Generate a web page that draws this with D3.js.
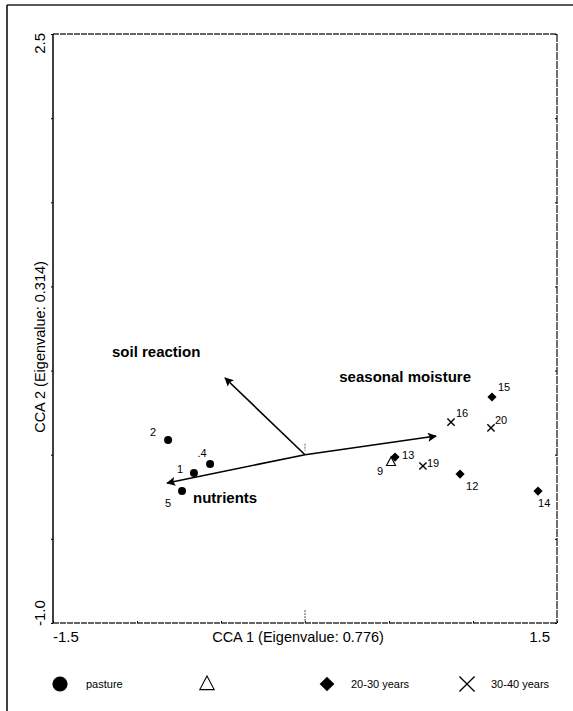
<!DOCTYPE html>
<html>
<head>
<meta charset="utf-8">
<script src="https://cdn.jsdelivr.net/npm/d3@7"></script>
<style>
  body { margin: 0; background: #fff; }
  svg { display: block; font-family: "Liberation Sans", Arial, sans-serif; }
  text { fill: #000; }
</style>
</head>
<body>
<svg id="chart" width="573" height="711"></svg>
<script>
// site scores (CCA 1, CCA 2)
var siteIds    = ["1", "2", "4", "5", "9", "13", "19", "12", "14", "15", "16", "20"];
var siteGroup  = ["pasture", "pasture", "pasture", "pasture", "open", "20-30", "30-40", "20-30", "20-30", "20-30", "30-40", "30-40"];
var siteX      = [-0.661, -0.815, -0.565, -0.732, 0.512, 0.536, 0.702, 0.923, 1.387, 1.113, 0.869, 1.107];
var siteY      = [-0.109, 0.087, -0.055, -0.216, -0.043, -0.014, -0.067, -0.115, -0.216, 0.343, 0.194, 0.159];

// environmental arrows
var envNames = ["soil reaction", "seasonal moisture", "nutrients"];
var envX     = [-0.476, 0.780, -0.821];
var envY     = [0.456, 0.111, -0.168];

var xTickLabels = ["-1.5", "1.5"];
var yTickLabels = ["2.5", "-1.0"];
var legendGroups = ["pasture", "open", "20-30", "30-40"];
var legendTexts  = ["pasture", "", "20-30 years", "30-40 years"];

var svg = d3.select("#chart");

var x = d3.scaleLinear().domain([-1.5, 1.5]).range([53, 557]);
var y = d3.scaleLinear().domain([-1.0, 2.5]).range([623, 34]);

// outer frame (top and left only)
svg.append("line")
  .attr("x1", 7).attr("y1", 5).attr("x2", 573).attr("y2", 5)
  .attr("stroke", "#222").attr("stroke-width", 1.5);
svg.append("line")
  .attr("x1", 7).attr("y1", 5).attr("x2", 7).attr("y2", 711)
  .attr("stroke", "#111").attr("stroke-width", 1.6);

// plot frame
svg.append("line")
  .attr("x1", x(-1.5)).attr("y1", y(2.5)).attr("x2", x(1.5)).attr("y2", y(2.5))
  .attr("stroke", "#333").attr("stroke-width", 1.3).attr("stroke-dasharray", "6,1");
svg.append("line")
  .attr("x1", x(-1.5)).attr("y1", y(-1)).attr("x2", x(1.5)).attr("y2", y(-1))
  .attr("stroke", "#333").attr("stroke-width", 1.3).attr("stroke-dasharray", "6,1");
svg.append("line")
  .attr("x1", x(1.5)).attr("y1", y(2.5)).attr("x2", x(1.5)).attr("y2", y(-1))
  .attr("stroke", "#222").attr("stroke-width", 1.3).attr("stroke-dasharray", "8,1");
svg.append("line")
  .attr("x1", x(-1.5)).attr("y1", y(2.5)).attr("x2", x(-1.5)).attr("y2", y(-1))
  .attr("stroke", "#000").attr("stroke-width", 1.5);

// tick marks
var ticks = d3.range(-1.5, 1.51, 0.5);
svg.append("g")
  .attr("transform", "translate(0," + y(-1) + ")")
  .call(d3.axisTop(x).tickValues(ticks).tickSize(2).tickFormat(""))
  .call(function(g) { g.select(".domain").remove(); });
svg.append("g")
  .attr("transform", "translate(" + x(-1.5) + ",0)")
  .call(d3.axisLeft(y).tickValues(d3.range(-1, 2.51, 0.5)).tickSize(2).tickFormat(""))
  .call(function(g) { g.select(".domain").remove(); });
svg.append("g")
  .attr("transform", "translate(" + x(1.5) + ",0)")
  .call(d3.axisLeft(y).tickValues(d3.range(-1, 2.51, 0.5)).tickSize(2).tickFormat(""))
  .call(function(g) { g.select(".domain").remove(); });

// origin marks
svg.append("line")
  .attr("x1", x(0)).attr("y1", y(-1) - 13).attr("x2", x(0)).attr("y2", y(-1))
  .attr("stroke", "#555").attr("stroke-dasharray", "2,1");
svg.append("line")
  .attr("x1", x(0)).attr("y1", y(0) - 11).attr("x2", x(0)).attr("y2", y(0) - 4)
  .attr("stroke", "#666").attr("stroke-dasharray", "2,1");

// tick labels
svg.append("text")
  .attr("x", x(-1.5)).attr("y", 642)
  .text(xTickLabels[0])
  .attr("font-size", "15px");
svg.append("text")
  .attr("x", x(1.5) - 7).attr("y", 642)
  .attr("text-anchor", "end")
  .text(xTickLabels[1])
  .attr("font-size", "15px");
svg.append("text")
  .attr("transform", "translate(45," + (y(2.5) - 1) + ") rotate(-90)")
  .attr("text-anchor", "end")
  .text(yTickLabels[0])
  .attr("font-size", "15px");
svg.append("text")
  .attr("transform", "translate(45," + (y(-1) + 3) + ") rotate(-90)")
  .attr("text-anchor", "start")
  .text(yTickLabels[1])
  .attr("font-size", "15px");

// axis titles
svg.append("text")
  .attr("x", 298).attr("y", 642)
  .attr("text-anchor", "middle")
  .text("CCA 1 (Eigenvalue: 0.776)")
  .attr("font-size", "14.5px");
svg.append("text")
  .attr("transform", "translate(45,347) rotate(-90)")
  .attr("text-anchor", "middle")
  .text("CCA 2 (Eigenvalue: 0.314)")
  .attr("font-size", "14.5px");

// arrows
svg.append("defs").append("marker")
  .attr("id", "head")
  .attr("viewBox", "0 0 10 10")
  .attr("refX", 9).attr("refY", 5)
  .attr("markerWidth", 14).attr("markerHeight", 9)
  .attr("markerUnits", "userSpaceOnUse")
  .attr("orient", "auto")
  .append("path")
  .attr("d", "M0,0 L10,5 L0,10 L2,5 Z")
  .attr("fill", "#000");

var envLabelPos = { "soil reaction": [112, 357, "start"], "seasonal moisture": [471, 382, "end"], "nutrients": [193, 503, "start"] };

envNames.forEach(function(n, i) {
  svg.append("line")
    .attr("x1", x(0)).attr("y1", y(0))
    .attr("x2", x(envX[i])).attr("y2", y(envY[i]))
    .attr("stroke", "#000").attr("stroke-width", 1.6)
    .attr("marker-end", "url(#head)");
  svg.append("text")
    .attr("x", envLabelPos[n][0]).attr("y", envLabelPos[n][1])
    .attr("text-anchor", envLabelPos[n][2])
    .text(n)
    .attr("font-size", "15px")
    .attr("font-weight", "bold");
});

// symbols
function drawSymbol(g, grp, cx, cy, s) {
  if (grp == "pasture") {
    g.append("circle").attr("cx", cx).attr("cy", cy).attr("r", 4 * s).attr("fill", "#000");
  } else if (grp == "open") {
    g.append("path")
      .attr("d", "M" + cx + "," + (cy - 5 * s) + " L" + (cx + 4.5 * s) + "," + (cy + 3.5 * s) + " L" + (cx - 4.5 * s) + "," + (cy + 3.5 * s) + " Z")
      .attr("fill", "#fff").attr("stroke", "#000").attr("stroke-width", 1.1);
  } else if (grp == "20-30") {
    g.append("path")
      .attr("d", "M" + cx + "," + (cy - 4.6 * s) + " L" + (cx + 4.6 * s) + "," + cy + " L" + cx + "," + (cy + 4.6 * s) + " L" + (cx - 4.6 * s) + "," + cy + " Z")
      .attr("fill", "#000");
  } else {
    var d = 3.6 * s;
    g.append("path")
      .attr("d", "M" + (cx - d) + "," + (cy - d) + " L" + (cx + d) + "," + (cy + d) + " M" + (cx + d) + "," + (cy - d) + " L" + (cx - d) + "," + (cy + d))
      .attr("stroke", "#000").attr("stroke-width", s > 1 ? 1.3 : 1.4).attr("fill", "none");
  }
}

// label offsets from each point: dx, dy, anchor
var labelOffset = {
  "1": [-14, 0, "middle"], "2": [-15, -4, "middle"], "4": [-8, -7, "middle"], "5": [-14, 16, "middle"],
  "9": [-11, 13, "middle"], "13": [7, 2, "start"], "19": [4, 1, "start"], "12": [6, 16, "start"],
  "14": [0, 16, "start"], "15": [6, -6, "start"], "16": [5, -5, "start"], "20": [4, -4, "start"]
};

var pts = svg.append("g");
siteIds.forEach(function(id, i) {
  var cx = x(siteX[i]), cy = y(siteY[i]);
  drawSymbol(pts, siteGroup[i], cx, cy, 1);
  var o = labelOffset[id];
  pts.append("text")
    .attr("x", cx + o[0]).attr("y", cy + o[1])
    .attr("text-anchor", o[2])
    .text(id == "4" ? ".4" : id)
    .attr("font-size", "11px");
});

// legend
var legendX = [60, 207, 327, 467];
var leg = svg.append("g");
legendGroups.forEach(function(grp, i) {
  drawSymbol(leg, grp, legendX[i], 684, grp == "pasture" ? 1.9 : (grp == "30-40" ? 2.1 : 1.6));
  if (legendTexts[i] != "") {
    leg.append("text")
      .attr("x", legendX[i] + (grp == "pasture" ? 26 : 24)).attr("y", 688)
      .text(legendTexts[i])
      .attr("font-size", "11px");
  }
});
</script>
</body>
</html>
